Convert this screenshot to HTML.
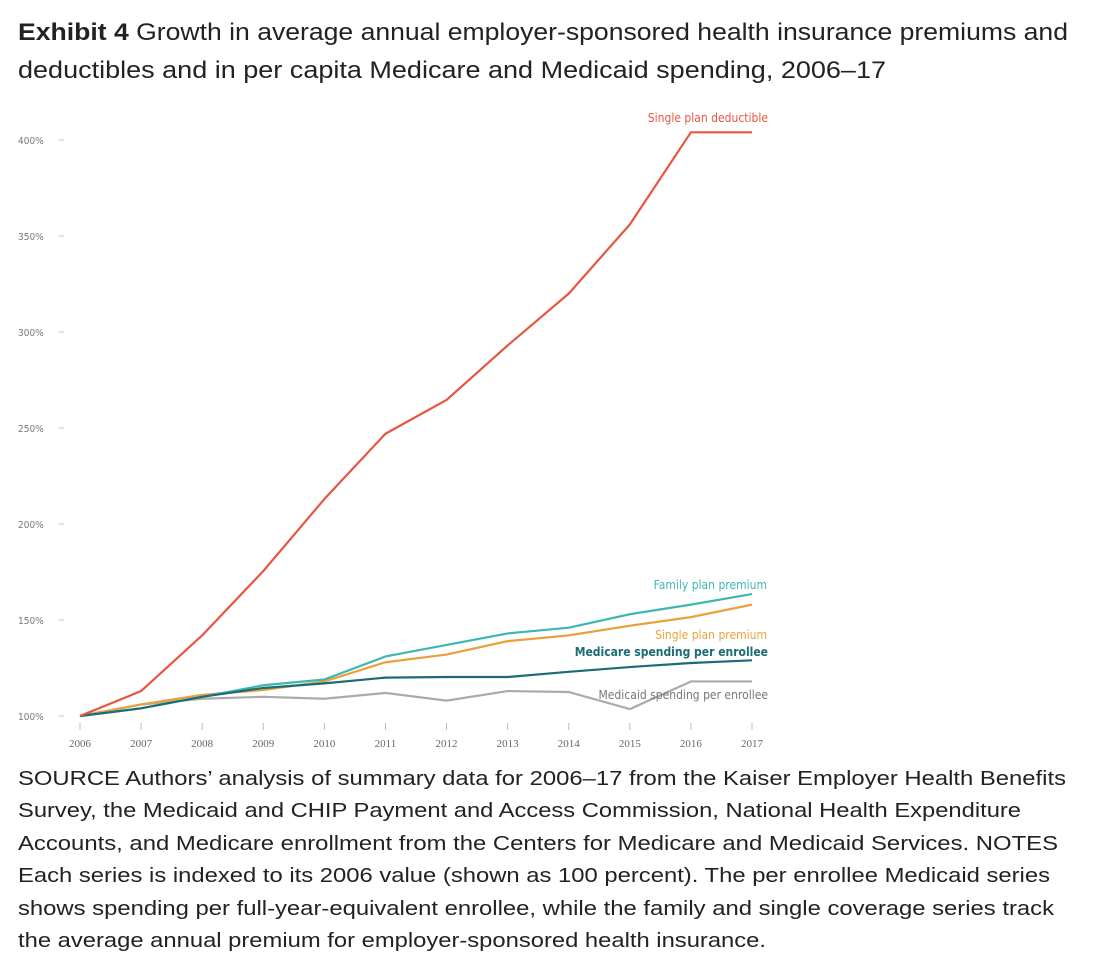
<!DOCTYPE html>
<html><head><meta charset="utf-8"><style>
body{margin:0;background:#fff;width:1094px;height:958px;overflow:hidden;font-family:"Liberation Sans",sans-serif;}
#title{position:absolute;left:18px;top:14px;font-size:24px;line-height:38px;color:#222;}
#note{position:absolute;left:18px;top:763px;font-size:20px;line-height:32.4px;color:#222;}
.ln{white-space:nowrap;transform-origin:0 0;width:max-content;}
svg{position:absolute;left:0;top:0;}
</style></head><body>
<div id="title">
<div class="ln" data-w="1050"><b>Exhibit 4</b> Growth in average annual employer-sponsored health insurance premiums and</div>
<div class="ln" data-w="868">deductibles and in per capita Medicare and Medicaid spending, 2006–17</div>
</div>
<svg id="chart" width="1094" height="760"></svg>
<div id="note">
<div class="ln" data-w="1048">SOURCE Authors’ analysis of summary data for 2006–17 from the Kaiser Employer Health Benefits</div>
<div class="ln" data-w="1003">Survey, the Medicaid and CHIP Payment and Access Commission, National Health Expenditure</div>
<div class="ln" data-w="1040">Accounts, and Medicare enrollment from the Centers for Medicare and Medicaid Services. NOTES</div>
<div class="ln" data-w="1032">Each series is indexed to its 2006 value (shown as 100 percent). The per enrollee Medicaid series</div>
<div class="ln" data-w="1036">shows spending per full-year-equivalent enrollee, while the family and single coverage series track</div>
<div class="ln" data-w="748">the average annual premium for employer-sponsored health insurance.</div>
</div>
<script>
document.querySelectorAll('.ln').forEach(d=>{const w=d.getBoundingClientRect().width;d.style.transform='scaleX('+(+d.dataset.w/w)+')';});
const years=[2006,2007,2008,2009,2010,2011,2012,2013,2014,2015,2016,2017];
const yTicks=[100,150,200,250,300,350,400];
const singleDeductible=[100,113,142,175.5,213,247,264.6,293,320,356,404,404];
const familyPremium=[100,104,110,116,119,131,137,143,146,153,158,163.5];
const singlePremium=[100,106,111,113.5,118,128,132,139,142,147,151.5,158];
const medicare=[100,104,110,114.6,117,120,120.3,120.3,123,125.5,127.6,129];
const medicaid=[100,106,109,110,109,112,108,113,112.5,103.6,118,118];
const NS='http://www.w3.org/2000/svg';
const svg=document.getElementById('chart');
const x=y=>80+(y-2006)*(752-80)/11;
const yv=v=>716-(v-100)*1.92;
function el(t,a,p){const e=document.createElementNS(NS,t);for(const k in a)e.setAttribute(k,a[k]);(p||svg).appendChild(e);return e;}
yTicks.forEach(v=>{
 const t=el('text',{x:18,y:yv(v)+4,'font-size':10,fill:'#777','font-family':'DejaVu Sans Condensed, Liberation Sans, sans-serif'});t.textContent=v+'%';
 
 
 const l=el('line',{x1:58,x2:64,y1:yv(v),y2:yv(v),stroke:'#ccc','stroke-width':1});
 
 
});
years.forEach(yr=>{
 const l=el('line',{x1:x(yr),x2:x(yr),y1:723,y2:730,stroke:'#bbb'});
 
 
 const t=el('text',{x:x(yr),y:747,'font-size':11,fill:'#666','text-anchor':'middle','font-family':'Liberation Serif, serif'});t.textContent=yr;
 
 
});
function series(vals,color,name,w){
 const p=el('polyline',{points:vals.map((v,i)=>x(years[i])+','+yv(v)).join(' '),fill:'none',stroke:color,'stroke-width':w||2.2,'stroke-linejoin':'round'});
 
 
}
series(medicaid,'#aaaaaa','medicaid-line');
series(singlePremium,'#e9a23b','single-premium-line');
series(familyPremium,'#3db7b3','family-premium-line');
series(medicare,'#1b6c74','medicare-line');
series(singleDeductible,'#e8553f','single-deductible-line');
function label(txt,xx,yy,color,name,bold){
 const t=el('text',{x:xx,y:yy,'font-size':12,fill:color,'text-anchor':'end','font-weight':bold?'bold':'normal','font-family':'DejaVu Sans Condensed, Liberation Sans, sans-serif'});t.textContent=txt;
 
 
}
label('Single plan deductible',768,122,'#e8553f','single-deductible-label');
label('Family plan premium',767,589,'#3db7b3','family-premium-label');
label('Single plan premium',767,639,'#e9a23b','single-premium-label');
label('Medicare spending per enrollee',768,656,'#1b6c74','medicare-label',true);
label('Medicaid spending per enrollee',768,699,'#777','medicaid-label');
</script>
</body></html>
